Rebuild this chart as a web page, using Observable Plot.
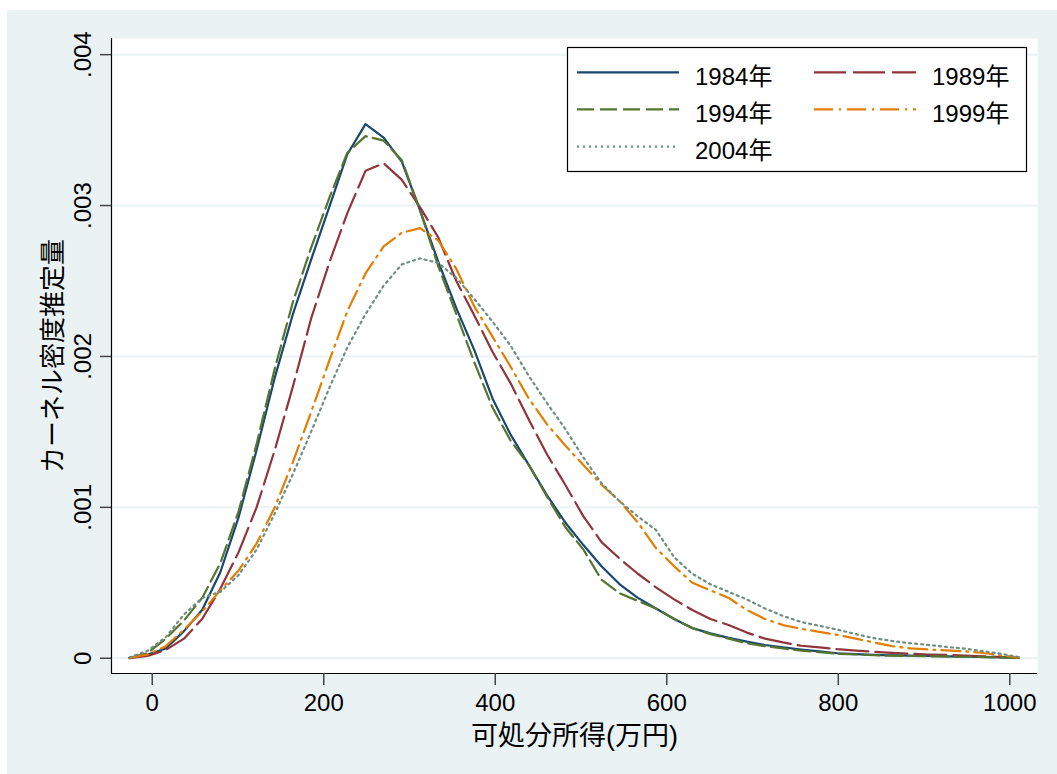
<!DOCTYPE html>
<html>
<head>
<meta charset="utf-8">
<script src="https://cdn.jsdelivr.net/npm/d3@7"></script>
<script src="https://cdn.jsdelivr.net/npm/@observablehq/plot@0.6"></script>
<style>
  html, body { margin: 0; padding: 0; background: #ffffff; }
  #chart { position: absolute; left: 7px; top: 10px; width: 1050px; height: 764px; background: #eaf2f3; }
</style>
</head>
<body>
<div id="chart"></div>
<script>
// Evaluation points of the kernel density estimates (disposable income, 万円)
const income = [-26.5, -5.3, 15.8, 37.0, 58.2, 79.4, 100.5, 121.7, 142.9, 164.0,
  185.2, 206.4, 227.5, 248.7, 269.9, 291.1, 312.2, 333.4, 354.6, 375.7,
  396.9, 418.1, 439.2, 460.4, 481.6, 502.8, 523.9, 545.1, 566.3, 587.4,
  608.6, 629.8, 650.9, 672.1, 693.3, 714.5, 735.6, 756.8, 778.0, 799.1,
  820.3, 841.5, 862.6, 883.8, 905.0, 926.2, 947.3, 968.5, 989.7, 1010.8];

// Estimated densities for each survey year
const d1984 = [0.000003, 0.000025, 0.000065, 0.00018, 0.00032, 0.00057, 0.00093, 0.00138, 0.00186, 0.00228,
  0.00264, 0.00299, 0.00334, 0.00354, 0.00345, 0.00329, 0.00297, 0.00263, 0.00232, 0.00204,
  0.00172, 0.00148, 0.00128, 0.00108, 0.00090, 0.00075, 0.00061, 0.00049, 0.00040, 0.00033,
  0.00026, 0.00020, 0.000165, 0.000135, 0.00011, 0.000088, 0.000072, 0.000058, 0.000045, 0.000033,
  0.000027, 0.000022, 0.000019, 0.000017, 0.000015, 0.000013, 0.000011, 0.000009, 0.000006, 0.000003];
const d1989 = [0.0, 0.000015, 0.000055, 0.00013, 0.00026, 0.00046, 0.00070, 0.00100, 0.00138, 0.00180,
  0.00225, 0.00262, 0.00295, 0.00323, 0.00328, 0.00317, 0.00299, 0.00279, 0.00250, 0.00227,
  0.00203, 0.00182, 0.00158, 0.00135, 0.00115, 0.00094, 0.00077, 0.00066, 0.00056, 0.00047,
  0.00039, 0.00032, 0.00026, 0.00022, 0.00017, 0.00013, 0.000105, 0.000083, 0.000072, 0.000060,
  0.000051, 0.000043, 0.000036, 0.000030, 0.000025, 0.000022, 0.000018, 0.000013, 0.000008, 0.000003];
const d1994 = [0.000003, 0.000035, 0.00013, 0.00025, 0.00040, 0.00063, 0.00097, 0.00142, 0.00192, 0.00236,
  0.00272, 0.00305, 0.00335, 0.00346, 0.00343, 0.00330, 0.00297, 0.00260, 0.00228, 0.00196,
  0.00166, 0.00144, 0.00128, 0.00107, 0.00087, 0.00072, 0.00052, 0.00043, 0.00038, 0.00033,
  0.00026, 0.00020, 0.00016, 0.00013, 0.00010, 0.00008, 0.000065, 0.000050, 0.000040, 0.000030,
  0.000025, 0.000020, 0.000017, 0.000015, 0.000013, 0.000012, 0.000010, 0.000008, 0.000005, 0.000002];
const d1999 = [0.000003, 0.000025, 0.00008, 0.00019, 0.00031, 0.00045, 0.00058, 0.00076, 0.00100, 0.00130,
  0.00163, 0.00197, 0.00230, 0.00255, 0.00273, 0.00282, 0.00285, 0.00277, 0.00258, 0.00233,
  0.00213, 0.00193, 0.00172, 0.00155, 0.00141, 0.00128, 0.00115, 0.00104, 0.00090, 0.00073,
  0.00061, 0.00050, 0.00045, 0.00040, 0.00032, 0.00026, 0.00022, 0.000195, 0.000175, 0.000155,
  0.00013, 0.000105, 0.00008, 0.000066, 0.000058, 0.000052, 0.000046, 0.000035, 0.00002, 0.000005];
const d2004 = [0.000005, 0.00005, 0.00014, 0.00029, 0.00040, 0.00044, 0.00055, 0.00072, 0.00096, 0.00122,
  0.00150, 0.00179, 0.00206, 0.00228, 0.00247, 0.00261, 0.00265, 0.00262, 0.00252, 0.00238,
  0.00223, 0.00207, 0.00187, 0.00169, 0.00152, 0.00133, 0.00116, 0.00104, 0.00094, 0.00085,
  0.00067, 0.00056, 0.00049, 0.00044, 0.00039, 0.00033, 0.00028, 0.00024, 0.000215, 0.00019,
  0.00016, 0.000133, 0.000115, 0.00010, 0.000088, 0.000075, 0.000064, 0.000047, 0.00003, 0.000007];

const years = ["1984年", "1989年", "1994年", "1999年", "2004年"];
const colors = ["#1a476f", "#90353b", "#55752f", "#e37e00", "#6e8e84"];
const dashes = [null, "32 7", "17 6", "19 6 2 6", "2 4"];
const densities = [d1984, d1989, d1994, d1999, d2004];

const xTicks = [0, 200, 400, 600, 800, 1000];
const yTicks = [0, 0.001, 0.002, 0.003, 0.004];
const xDomain = [-47.5, 1032.3];
const yDomain = [-0.000101, 0.004107];

const series = years.map((name, k) => ({
  name, color: colors[k], dash: dashes[k],
  rows: income.map((x, i) => ({income: x, density: densities[k][i]}))
}));

const fontFamily = '"Liberation Sans", Arial, "Noto Sans CJK JP", sans-serif';
const fmtY = d => d === 0 ? "0" : d.toFixed(3).replace(/^0/, "");

const svg = Plot.plot({
  width: 1050,
  height: 764,
  marginLeft: 104,
  marginRight: 20,
  marginTop: 28,
  marginBottom: 101,
  style: {background: "transparent", fontFamily, fontSize: "24px", color: "#000", overflow: "visible"},
  x: {domain: xDomain},
  y: {domain: yDomain},
  marks: [
    Plot.frame({fill: "white", stroke: "none"}),
    Plot.gridY(yTicks, {stroke: "#eaf2f3", strokeOpacity: 1, strokeWidth: 2}),
    ...series.map(s => Plot.line(s.rows, {
      x: "income", y: "density", stroke: s.color, strokeWidth: 2.2,
      strokeDasharray: s.dash, strokeLinejoin: "round"
    })),
    Plot.ruleX([xDomain[0]], {stroke: "#000", strokeWidth: 1.2}),
    Plot.ruleY([yDomain[0]], {stroke: "#000", strokeWidth: 1.2}),
    Plot.axisX(xTicks, {
      tickSize: 12, tickPadding: 8, stroke: "#444", strokeWidth: 1.5, fill: "#000",
      fontSize: 24, tickFormat: d => String(d), label: null
    }),
    Plot.axisX({
      ticks: [], tickSize: 0, fontSize: 27,
      label: "可処分所得(万円)", labelAnchor: "center", labelOffset: 71, labelArrow: "none"
    }),
    Plot.axisY(yTicks, {
      tickSize: 11, tickPadding: 10, stroke: "#444", strokeWidth: 1.5, fill: "#000",
      fontSize: 24, tickRotate: -90, textAnchor: "middle", lineAnchor: "bottom", tickFormat: fmtY,
      label: null
    }),
    Plot.axisY({
      ticks: [], tickSize: 0, fontSize: 26,
      label: "カーネル密度推定量", labelAnchor: "center", labelOffset: 68, labelArrow: "none"
    })
  ]
});

// Legend box in the upper right of the plot area
const legend = d3.select(svg).append("g")
  .attr("font-family", fontFamily)
  .attr("font-size", 24)
  .attr("text-anchor", "start");
legend.append("rect")
  .attr("x", 560.5).attr("y", 37.5).attr("width", 459).attr("height", 124)
  .attr("fill", "white").attr("stroke", "#000").attr("stroke-width", 1.2);
const colX = [570, 807];
const rowY = [62.3, 99.3, 136.7];
series.forEach((s, k) => {
  const cx = colX[k % 2], cy = rowY[Math.floor(k / 2)];
  legend.append("line")
    .attr("x1", cx).attr("x2", cx + 102).attr("y1", cy).attr("y2", cy)
    .attr("stroke", s.color).attr("stroke-width", 2.2)
    .attr("stroke-dasharray", s.dash);
  legend.append("text")
    .attr("x", cx + 118).attr("y", cy + 12.5)
    .attr("fill", "#000")
    .text(s.name);
});

document.getElementById("chart").appendChild(svg);
</script>
</body>
</html>
